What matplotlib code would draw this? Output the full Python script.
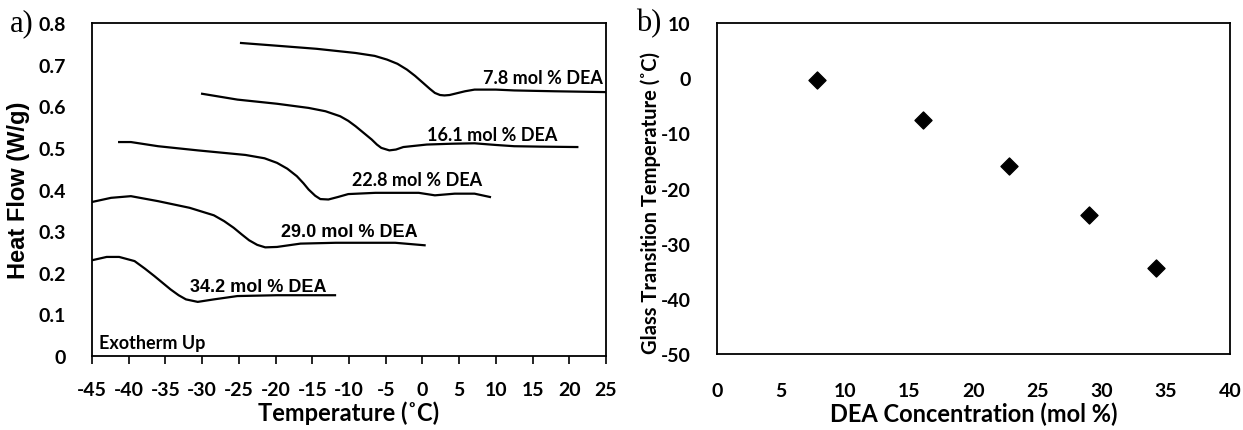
import matplotlib
matplotlib.use("Agg")
import matplotlib.pyplot as plt
import numpy as np

plt.rcParams['font.family'] = ['Lato', 'DejaVu Sans']
plt.rcParams['font.weight'] = 'bold'
plt.rcParams['axes.unicode_minus'] = False

# DSC curves (temperature in C, heat flow in W/g)
t_78 = [-24.7, -19.5, -14.4, -9.1, -6.5, -4.8, -3.4, -2.1, -1.0, 0.1, 1.0, 1.7, 2.4, 3.0, 3.7, 4.4, 5.8, 7.1, 10.0, 12.5, 18.0, 25.0]
hf_78 = [0.752, 0.745, 0.738, 0.728, 0.721, 0.712, 0.702, 0.688, 0.673, 0.656, 0.642, 0.632, 0.627, 0.626, 0.627, 0.630, 0.636, 0.640, 0.640, 0.638, 0.636, 0.634]

t_161 = [-30.0, -25.2, -19.8, -15.5, -13.2, -11.2, -10.1, -9.1, -8.0, -6.9, -6.2, -5.6, -4.5, -3.6, -2.6, 0.6, 4.0, 7.1, 10.0, 12.5, 16.0, 21.1]
hf_161 = [0.630, 0.616, 0.606, 0.596, 0.588, 0.576, 0.565, 0.552, 0.536, 0.520, 0.508, 0.500, 0.494, 0.496, 0.502, 0.508, 0.510, 0.511, 0.507, 0.504, 0.503, 0.502]

t_228 = [-41.3, -39.7, -36.0, -30.6, -24.1, -21.5, -19.8, -18.4, -17.1, -16.2, -15.5, -14.6, -13.9, -12.8, -11.5, -10.1, -6.4, -0.5, 1.7, 4.4, 7.1, 9.2]
hf_228 = [0.514, 0.514, 0.504, 0.494, 0.483, 0.475, 0.464, 0.450, 0.432, 0.415, 0.400, 0.385, 0.377, 0.376, 0.382, 0.389, 0.392, 0.392, 0.386, 0.390, 0.390, 0.382]

t_290 = [-45.0, -42.4, -39.7, -36.0, -31.7, -28.4, -27.0, -25.7, -24.6, -23.6, -22.5, -21.4, -19.8, -16.6, -11.8, -3.7, 0.3]
hf_290 = [0.370, 0.380, 0.384, 0.372, 0.356, 0.338, 0.324, 0.308, 0.292, 0.278, 0.267, 0.261, 0.262, 0.270, 0.272, 0.272, 0.266]

t_342 = [-45.0, -43.0, -41.3, -39.2, -37.8, -36.5, -35.4, -34.3, -33.2, -32.2, -30.6, -28.4, -25.2, -19.8, -11.9]
hf_342 = [0.230, 0.238, 0.238, 0.228, 0.210, 0.192, 0.176, 0.160, 0.146, 0.136, 0.130, 0.136, 0.144, 0.146, 0.146]

curve_labels = ['7.8 mol % DEA', '16.1 mol % DEA', '22.8 mol % DEA', '29.0 mol % DEA', '34.2 mol % DEA']
label_x = [16.35, 9.5, -0.7, -10.0, -22.3]
label_y = [0.670, 0.531, 0.423, 0.298, 0.168]

# Tg vs composition
dea_conc = [7.8, 16.1, 22.8, 29.0, 34.2]
tg = [-0.3, -7.6, -16.0, -24.8, -34.4]

fig = plt.figure(figsize=(12.43, 4.31), dpi=100)
ax1 = fig.add_axes([0.074, 0.1717, 0.4135, 0.7726])
ax2 = fig.add_axes([0.5768, 0.176, 0.4127, 0.7683])

for t, hf in [(t_78, hf_78), (t_161, hf_161), (t_228, hf_228), (t_290, hf_290), (t_342, hf_342)]:
    ax1.plot(t, hf, color='black', lw=1.6, solid_joinstyle='round')

# first three labels look like Calibri, the last two like Arial
for i, (txt, lx, ly) in enumerate(zip(curve_labels, label_x, label_y)):
    if i < 3:
        ax1.text(lx, ly, txt, ha='center', va='center', fontsize=13, fontweight='bold')
    else:
        ax1.text(lx, ly, txt, ha='center', va='center', fontsize=13, fontweight='bold',
                 family=['Liberation Sans', 'DejaVu Sans'])

ax1.text(-44.0, 0.032, 'Exotherm Up', ha='left', va='center', fontsize=13, fontweight='bold')

ax1.set_xlim(-45, 25)
ax1.set_ylim(0, 0.8)
ax1.set_xticks(np.arange(-45, 26, 5))
ax1.set_yticks(np.arange(0, 0.81, 0.1))
ax1.set_yticklabels(['0'] + ['%.1f' % v for v in np.arange(0.1, 0.81, 0.1)])
ax1.tick_params(axis='x', direction='out', length=6, width=1.2, pad=12, labelsize=14)
ax1.tick_params(axis='y', length=0, pad=19, labelsize=14)
ax1.set_xlabel('Temperature (˚C)', fontsize=17, fontweight='bold', labelpad=2)
ax1.set_ylabel('Heat Flow (W/g)', fontsize=17, fontweight='bold', labelpad=6,
               family=['Liberation Sans', 'DejaVu Sans'])

ax2.scatter(dea_conc, tg, marker='D', s=75, color='black', zorder=3)
ax2.set_xlim(0, 40)
ax2.set_ylim(-50, 10)
ax2.set_xticks(np.arange(0, 41, 5))
ax2.set_yticks(np.arange(-50, 11, 10))
ax2.tick_params(axis='x', length=0, pad=20, labelsize=14)
ax2.tick_params(axis='y', length=0, pad=19, labelsize=14)
ax2.set_xlabel('DEA Concentration (mol %)', fontsize=17, fontweight='bold', labelpad=2)
ax2.set_ylabel('Glass Transition Temperature (˚C)', fontsize=14.5, fontweight='bold', labelpad=4)
ax2.yaxis.set_label_coords(-0.11, 0.46)

for ax in (ax1, ax2):
    for s in ax.spines.values():
        s.set_linewidth(1.3)

fig.text(0.008, 0.945, 'a)', fontsize=22, fontweight='normal', family=['Liberation Serif'], va='center', ha='left')
fig.text(0.512, 0.945, 'b)', fontsize=22, fontweight='normal', family=['Liberation Serif'], va='center', ha='left')

fig.savefig('out.png', dpi=100)
